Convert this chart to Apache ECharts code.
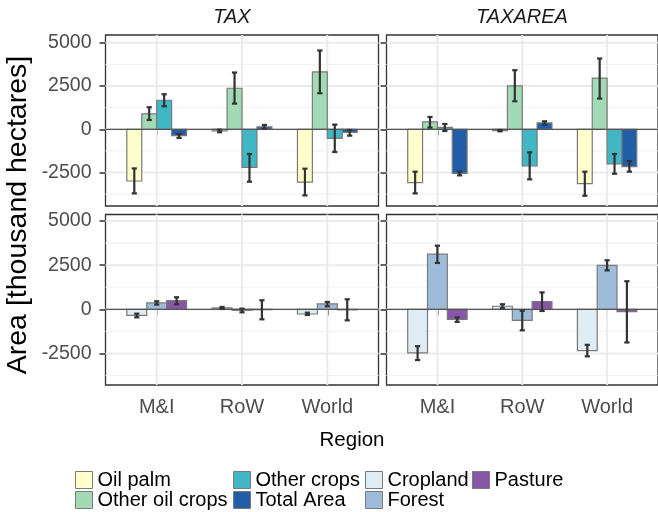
<!DOCTYPE html>
<html><head><meta charset="utf-8">
<script src="https://cdn.jsdelivr.net/npm/echarts@6/dist/echarts.min.js"></script>
<style>html,body{margin:0;padding:0;background:#fff}#c{width:658px;height:512px}</style>
</head><body><div id="c"></div><script>
// ---------------- data ----------------
const regions = ['M&I', 'RoW', 'World'];
const facetNames = ['TAX', 'TAXAREA'];
const cropNames = ['Oil palm', 'Other oil crops', 'Other crops', 'Total Area'];
const landNames = ['Cropland', 'Forest', 'Pasture'];
const yTickValues = [-2500, 0, 2500, 5000];
const yMinorValues = [-3750, -1250, 1250, 3750];
const xTickValues = [1, 2, 3];

// rows = series (cropNames order), columns = regions
const taxCropMean  = [[-2990, -96, -3050], [888, 2374, 3320], [1680, -2200, -521], [-367, 135, -174]];
const taxCropLow   = [[-3705, -170, -3821], [540, 1486, 2084], [1332, -3030, -1312], [-500, 40, -367]];
const taxCropHigh  = [[-2260, -20, -2277], [1274, 3281, 4555], [2026, -1428, 270], [-270, 250, -40]];

const taxareaCropMean = [[-3088, -77, -3146], [425, 2509, 2953], [116, -2123, -2007], [-2548, 367, -2162]];
const taxareaCropLow  = [[-3705, -115, -3841], [97, 1621, 1776], [-96, -2895, -2567], [-2663, 270, -2451]];
const taxareaCropHigh = [[-2451, -40, -2451], [714, 3416, 4092], [309, -1332, -1428], [-2451, 463, -1834]];

// rows = series (landNames order), columns = regions
const taxLandMean = [[-341, 76, -265], [360, -57, 303], [492, -25, -30]];
const taxLandLow  = [[-455, 19, -322], [265, -170, 170], [284, -568, -625]];
const taxLandHigh = [[-246, 133, -189], [455, 38, 417], [682, 511, 568]];

const taxareaLandMean = [[-2472, 172, -2338], [3123, -632, 2491], [-575, 441, -134]];
const taxareaLandLow  = [[-2874, 57, -2663], [2625, -1188, 2203], [-709, -96, -1878]];
const taxareaLandHigh = [[-2088, 287, -2012], [3602, -77, 2778], [-460, 958, 1590]];

// ---------------- styling ----------------
const cropColors = ['#ffffcc', '#a1dab4', '#41b6c4', '#225ea8'];
const landColors = ['#e0ecf4', '#9ebcda', '#8856a7'];
const FONT = 'Liberation Sans, Arial, sans-serif';

const panelLeft = [105.5, 386.5];
const panelWidth = 273;
const rowTop = [35, 214.5];
const rowHeight = [171, 170.5];
const rowMin = [-4434, -4286];
const rowMax = [5451, 5368];
const X_MIN = 0.4, X_MAX = 3.6;
const DODGE = 0.7;

const panels = [
  {row: 0, col: 0, mean: taxCropMean, low: taxCropLow, high: taxCropHigh, names: cropNames, colors: cropColors},
  {row: 0, col: 1, mean: taxareaCropMean, low: taxareaCropLow, high: taxareaCropHigh, names: cropNames, colors: cropColors},
  {row: 1, col: 0, mean: taxLandMean, low: taxLandLow, high: taxLandHigh, names: landNames, colors: landColors},
  {row: 1, col: 1, mean: taxareaLandMean, low: taxareaLandLow, high: taxareaLandHigh, names: landNames, colors: landColors}
];

const grids = [], xAxes = [], yAxes = [], series = [];

panels.forEach((p, i) => {
  grids.push({
    left: panelLeft[p.col], top: rowTop[p.row], width: panelWidth, height: rowHeight[p.row],
    show: true, borderColor: '#333333', borderWidth: 1.3, backgroundColor: '#ffffff', containLabel: false
  });
  xAxes.push({
    gridIndex: i, type: 'value', min: X_MIN, max: X_MAX,
    axisLine: {show: false},
    splitLine: {show: false},
    axisTick: {show: true, customValues: xTickValues, length: 6, lineStyle: {color: '#333333', width: 1.5}},
    axisLabel: {show: p.row === 1, customValues: xTickValues, margin: 12,
      formatter: v => regions[Math.round(v) - 1] || '',
      color: '#4d4d4d', fontSize: 20, fontFamily: FONT}
  });
  yAxes.push({
    gridIndex: i, type: 'value', min: rowMin[p.row], max: rowMax[p.row],
    axisLine: {show: false},
    splitLine: {show: false},
    axisTick: {show: true, customValues: yTickValues, length: 6, lineStyle: {color: '#333333', width: 1.5}},
    axisLabel: {show: p.col === 0, customValues: yTickValues, margin: 14,
      formatter: v => String(v),
      color: '#4d4d4d', fontSize: 19.5, fontFamily: FONT}
  });

  // gridlines (drawn from tick values through axis scale)
  const gridData = [];
  yTickValues.forEach(v => gridData.push([0, v, 1]));
  yMinorValues.forEach(v => gridData.push([0, v, 0]));
  xTickValues.forEach(v => gridData.push([1, v, 1]));
  series.push({
    type: 'custom', xAxisIndex: i, yAxisIndex: i, z: 1, silent: true,
    data: gridData,
    renderItem: (params, api) => {
      const kind = api.value(0), v = api.value(1), major = api.value(2);
      let a, b;
      if (kind === 0) { a = api.coord([X_MIN, v]); b = api.coord([X_MAX, v]); }
      else { a = api.coord([v, rowMin[p.row]]); b = api.coord([v, rowMax[p.row]]); }
      return {type: 'line', shape: {x1: a[0], y1: a[1], x2: b[0], y2: b[1]},
        style: {stroke: major ? '#ebebeb' : '#f2f2f2', lineWidth: major ? 2 : 1.1}};
    }
  });

  const n = p.names.length;
  const w = DODGE / n;
  p.names.forEach((name, k) => {
    // bars
    series.push({
      type: 'custom', name: name, xAxisIndex: i, yAxisIndex: i, z: 2,
      itemStyle: {color: p.colors[k], borderColor: '#7a7a7a', borderWidth: 1},
      data: regions.map((r, j) => [j + 1, p.mean[k][j]]),
      renderItem: (params, api) => {
        const x = api.value(0), v = api.value(1);
        const x0 = x - DODGE / 2 + k * w;
        const a = api.coord([x0, 0]);
        const b = api.coord([x0 + w, v]);
        return {type: 'rect',
          shape: {x: Math.min(a[0], b[0]), y: Math.min(a[1], b[1]), width: Math.abs(b[0] - a[0]), height: Math.abs(b[1] - a[1])},
          style: {fill: p.colors[k], stroke: '#7a7a7a', lineWidth: 1.2}};
      }
    });
  });

  // zero reference line
  series.push({
    type: 'custom', xAxisIndex: i, yAxisIndex: i, z: 3, silent: true,
    data: [[0]],
    renderItem: (params, api) => {
      const a = api.coord([X_MIN, 0]), b = api.coord([X_MAX, 0]);
      return {type: 'line', shape: {x1: a[0], y1: a[1], x2: b[0], y2: b[1]}, style: {stroke: '#555555', lineWidth: 1.2}};
    }
  });

  // error bars
  p.names.forEach((name, k) => {
    series.push({
      type: 'custom', xAxisIndex: i, yAxisIndex: i, z: 4, silent: true,
      data: regions.map((r, j) => [j + 1, p.low[k][j], p.high[k][j]]),
      renderItem: (params, api) => {
        const x = api.value(0) - DODGE / 2 + (k + 0.5) * w;
        const lo = api.coord([x, api.value(1)]);
        const hi = api.coord([x, api.value(2)]);
        const hw = 2.6;
        const st = {stroke: '#333333', lineWidth: 2.2};
        return {type: 'group', children: [
          {type: 'line', shape: {x1: lo[0], y1: lo[1], x2: hi[0], y2: hi[1]}, style: st},
          {type: 'line', shape: {x1: lo[0] - hw, y1: lo[1], x2: lo[0] + hw, y2: lo[1]}, style: st},
          {type: 'line', shape: {x1: hi[0] - hw, y1: hi[1], x2: hi[0] + hw, y2: hi[1]}, style: st}
        ]};
      }
    });
  });
});

// legends: one per entry, positioned like the reference
const legendPos = [
  ['Oil palm', 75, 470], ['Other oil crops', 75, 490],
  ['Other crops', 233, 470], ['Total Area', 233, 490],
  ['Cropland', 365, 470], ['Forest', 365, 490],
  ['Pasture', 472, 470]
];
const legends = legendPos.map(([name, x, y]) => ({
  data: [name], left: x, top: y, padding: 0, itemWidth: 17, itemHeight: 17, itemGap: 0,
  icon: 'rect', selectedMode: false,
  itemStyle: {borderColor: '#7a7a7a', borderWidth: 1},
  textStyle: {fontSize: 20, color: '#000000', fontFamily: FONT, lineHeight: 17, padding: [0, 0, 0, 0]}
}));

const chart = echarts.init(document.getElementById('c'), null, {renderer: 'canvas'});
chart.setOption({
  animation: false,
  backgroundColor: '#ffffff',
  grid: grids, xAxis: xAxes, yAxis: yAxes, series: series, legend: legends,
  graphic: [
    {type: 'text', x: 232, y: 17, style: {text: facetNames[0], fontSize: 20, fontStyle: 'italic', fontFamily: FONT, fill: '#1a1a1a', align: 'center', verticalAlign: 'middle'}},
    {type: 'text', x: 522, y: 17, style: {text: facetNames[1], fontSize: 20, fontStyle: 'italic', fontFamily: FONT, fill: '#1a1a1a', align: 'center', verticalAlign: 'middle'}},
    {type: 'text', x: 18, y: 215, rotation: Math.PI / 2, style: {text: 'Area [thousand hectares]', fontSize: 28.5, fontFamily: FONT, fill: '#000000', align: 'center', verticalAlign: 'middle'}},
    {type: 'text', x: 352, y: 440, style: {text: 'Region', fontSize: 20.5, fontFamily: FONT, fill: '#000000', align: 'center', verticalAlign: 'middle'}}
  ]
});
</script></body></html>
